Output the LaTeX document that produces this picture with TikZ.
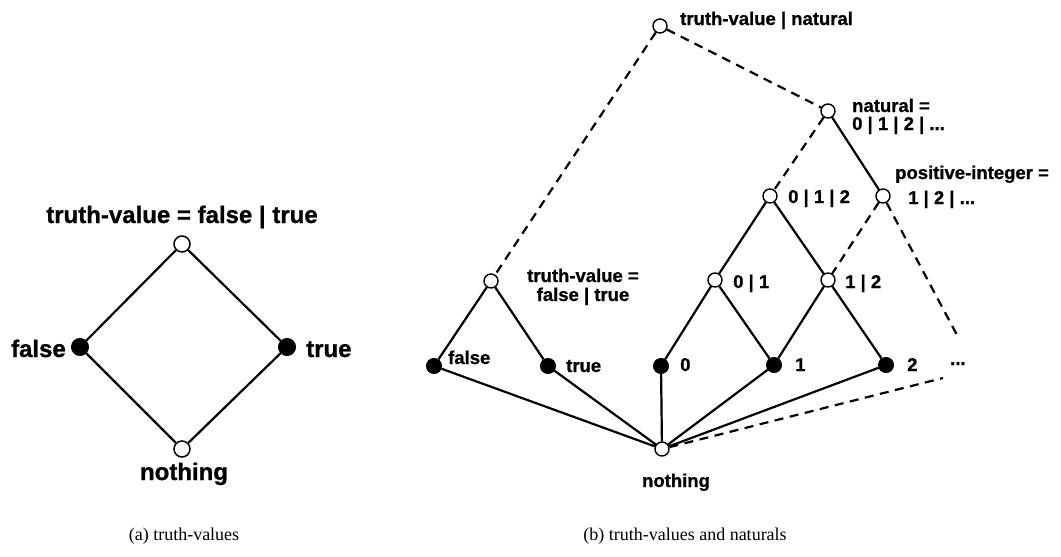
\documentclass[tikz,border=0pt]{standalone}
\usepackage{fontspec}
\setmainfont{Liberation Sans}
\newfontfamily\labfont{Liberation Sans}[BoldFeatures={FakeBold=0.9}]
\newfontfamily\capfont{Liberation Serif}
\begin{document}
\begin{tikzpicture}[x=1pt,y=-1pt,
  bigopen/.style={circle,draw,fill=white,line width=1.5pt,inner sep=0pt,minimum size=16pt},
  bigdot/.style={circle,draw,fill=black,line width=1pt,inner sep=0pt,minimum size=17pt},
  smallopen/.style={circle,draw,fill=white,line width=1.4pt,inner sep=0pt,minimum size=14pt},
  smalldot/.style={circle,draw,fill=black,line width=1pt,inner sep=0pt,minimum size=15pt},
  solidedge/.style={line width=2.2pt},
  dashedge/.style={line width=2.2pt,dash pattern=on 9pt off 6.5pt},
  biglab/.style={font=\labfont\fontsize{24}{26}\selectfont\bfseries,inner sep=0pt},
  lab/.style={font=\labfont\fontsize{18.5}{20}\selectfont\bfseries,inner sep=0pt},
  caption/.style={font=\capfont\fontsize{18}{20}\selectfont,inner sep=0pt}
]
\useasboundingbox[fill=white] (0,0) rectangle (1061,557);

% ---------- (a) the four truth-values ----------
\node[bigopen] (aT) at (182,244) {};
\node[bigdot]  (aF) at (80,347) {};
\node[bigdot]  (aR) at (287,347) {};
\node[bigopen] (aN) at (182,449) {};
\draw[solidedge] (aT) -- (aF) (aT) -- (aR) (aF) -- (aN) (aR) -- (aN);
\node[biglab,anchor=base] (laT) at (182,223) {truth-value = false | true};
\node[biglab,anchor=base east] (laF) at (66,357) {false};
\node[biglab,anchor=base west] (laR) at (306,357) {true};
\node[biglab,anchor=base] (laN) at (184,480) {nothing};

% ---------- (b) truth-values and naturals ----------
\node[smallopen] (top) at (660,26) {};
\node[smallopen] (nat) at (828,111) {};
\node[smallopen] (tv)  at (491,281) {};
\node[smallopen] (z012) at (770,196) {};
\node[smallopen] (pos) at (883,196) {};
\node[smallopen] (z01) at (715,280) {};
\node[smallopen] (z12) at (828,280) {};
\node[smalldot] (fa) at (434,366) {};
\node[smalldot] (tr) at (548,366) {};
\node[smalldot] (n0) at (661,366) {};
\node[smalldot] (n1) at (774,365) {};
\node[smalldot] (n2) at (886,365) {};
\node[smallopen] (bot) at (662,449) {};
\coordinate (moreA) at (957,335);
\coordinate (moreB) at (943,378);

% dashed: the orderings that continue past the picture
\draw[dashedge] (top) -- (tv) (top) -- (nat) (nat) -- (z012)
  (pos) -- (z12) (pos) -- (moreA) (bot) -- (moreB);
% solid: the finite orderings
\draw[solidedge] (nat) -- (pos)
  (z012) -- (z01) (z012) -- (z12)
  (z01) -- (n0) (z01) -- (n1) (z12) -- (n1) (z12) -- (n2)
  (tv) -- (fa) (tv) -- (tr)
  (fa) -- (bot) (tr) -- (bot) (n0) -- (bot) (n1) -- (bot) (n2) -- (bot);

\node[lab,anchor=base west] (ltop) at (680,25) {truth-value | natural};
\node[lab,anchor=base west] (lnat1) at (852,112) {natural =};
\node[lab,anchor=base west] (lnat2) at (852,130) {0 | 1 | 2 | ...};
\node[lab,anchor=base west] (lpos1) at (895,179) {positive-integer =};
\node[lab,anchor=base west] (lpos2) at (908,204) {1 | 2 | ...};
\node[lab,anchor=base west] (lz012) at (788,203) {0 | 1 | 2};
\node[lab,anchor=base west] (lz01) at (733,288) {0 | 1};
\node[lab,anchor=base west] (lz12) at (845,288) {1 | 2};
\node[lab,anchor=base] (ltv1) at (583,282) {truth-value =};
\node[lab,anchor=base] (ltv2) at (583,301) {false | true};
\node[lab,anchor=base west] (lfa) at (448,364) {false};
\node[lab,anchor=base west] (ltr) at (566,372) {true};
\node[lab,anchor=base west] (ln0) at (680,371) {0};
\node[lab,anchor=base west] (ln1) at (795,371) {1};
\node[lab,anchor=base west] (ln2) at (907,371) {2};
\node[lab,anchor=base west] (lmore) at (950,365) {...};
\node[lab,anchor=base] (lbot) at (676,487) {nothing};

% ---------- captions ----------
\node[caption,anchor=base] (capa) at (184,540) {(a) truth-values};
\node[caption,anchor=base] (capb) at (685,540) {(b) truth-values and naturals};
\end{tikzpicture}
\end{document}
